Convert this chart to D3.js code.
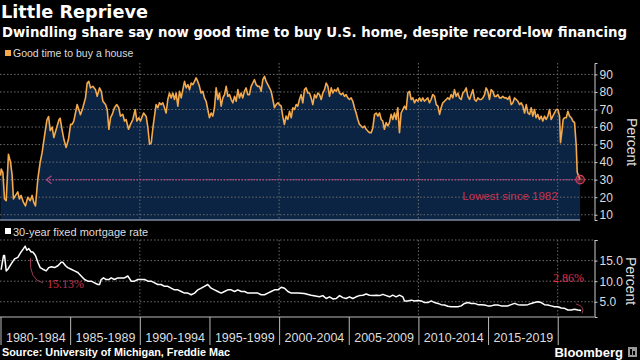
<!DOCTYPE html>
<html><head><meta charset="utf-8">
<script src="https://cdn.jsdelivr.net/npm/d3@7"></script>
<style>body{margin:0;background:#000;}svg{display:block;}</style>
</head><body>
<svg id="c" width="640" height="360"></svg>
<script>
// ---------- DATA ----------
const buyYears = [1980.00,1980.05,1980.17,1980.29,1980.41,1980.57,1980.72,1980.84,1980.93,1981.08,1981.24,1981.36,1981.48,1981.65,1981.79,1981.96,1982.13,1982.27,1982.39,1982.51,1982.68,1982.85,1982.99,1983.16,1983.33,1983.45,1983.57,1983.71,1983.83,1984.00,1984.19,1984.28,1984.43,1984.55,1984.71,1984.88,1985.03,1985.14,1985.26,1985.38,1985.50,1985.62,1985.74,1985.91,1986.10,1986.22,1986.34,1986.46,1986.63,1986.82,1986.94,1987.11,1987.23,1987.35,1987.54,1987.66,1987.78,1987.90,1988.02,1988.18,1988.35,1988.49,1988.61,1988.78,1988.90,1989.02,1989.19,1989.33,1989.50,1989.67,1989.79,1989.93,1990.05,1990.27,
1990.46,1990.58,1990.70,1990.82,1990.94,1991.05,1991.17,1991.29,1991.41,1991.53,1991.65,1991.77,1991.89,1992.01,1992.13,1992.25,1992.37,1992.49,1992.61,1992.73,1992.85,1992.97,1993.09,1993.21,1993.33,1993.45,1993.57,1993.69,1993.81,1993.93,1994.04,1994.16,1994.28,1994.40,1994.52,1994.64,1994.76,1994.88,1995.00,1995.12,1995.24,1995.36,1995.48,1995.60,1995.72,1995.84,1995.96,1996.08,1996.20,1996.32,1996.44,1996.56,1996.68,1996.80,1996.92,1997.04,1997.15,1997.27,1997.39,1997.51,1997.63,1997.75,1997.87,1997.99,1998.11,1998.23,1998.35,1998.47,1998.59,1998.71,1998.83,1998.95,1999.07,1999.19,1999.31,1999.43,1999.55,1999.67,1999.79,1999.91,2000.03,2000.15,2000.26,2000.38,2000.50,2000.62,
2000.75,2000.87,2000.99,2001.11,2001.23,2001.34,2001.46,2001.58,2001.70,2001.82,2001.94,2002.06,2002.18,2002.30,2002.42,2002.54,2002.66,2002.78,2002.90,2003.02,2003.14,2003.26,2003.38,2003.50,2003.62,2003.74,2003.86,2003.98,2004.10,2004.22,2004.33,2004.45,2004.57,2004.69,2004.81,2004.93,2005.05,2005.17,2005.29,2005.41,2005.53,2005.65,2005.77,2005.89,2006.01,2006.13,2006.25,2006.37,2006.49,2006.61,2006.73,2006.85,2006.97,2007.09,2007.21,2007.33,2007.44,2007.56,2007.68,2007.80,2007.92,2008.04,2008.16,2008.28,2008.40,2008.52,2008.64,2008.76,2008.88,2009.00,2009.12,2009.24,2009.36,2009.48,2009.60,2009.72,2009.84,2009.96,2010.08,2010.19,2010.31,2010.43,2010.55,2010.67,2010.79,2010.91,2011.03,
2011.16,2011.28,2011.40,2011.52,2011.63,2011.75,2011.87,2011.99,2012.11,2012.23,2012.35,2012.47,2012.59,2012.71,2012.83,2012.95,2013.07,2013.19,2013.31,2013.43,2013.55,2013.67,2013.79,2013.91,2014.03,2014.15,2014.27,2014.39,2014.51,2014.63,2014.75,2014.86,2014.98,2015.10,2015.22,2015.34,2015.46,2015.58,2015.70,2015.82,2015.94,2016.06,2016.18,2016.30,2016.42,2016.54,2016.66,2016.78,2016.90,2017.02,2017.14,2017.26,2017.38,2017.50,2017.62,2017.74,2017.86,2017.98,2018.10,2018.21,2018.33,2018.45,2018.57,2018.69,2018.81,2018.93,2019.05,2019.17,2019.29,2019.41,2019.53,2019.65,2019.77,2019.89,2020.01,2020.13,2020.20,2020.30,2020.39,2020.49,2020.61,2020.73,2020.85,2020.97,2021.09,2021.21,2021.33,2021.40,2021.49,2021.61];
const buyValues = [32.3,36,34,19,18,44.5,40,32,19,21,23,19,21,17,15,20,18,21,17,15,30.4,40,45.5,55,64,66,58,60,54,58.7,64,65,58,53,48.3,53,61.5,61.5,63.4,68,72.8,70,67,71,76.6,85,86,82.3,83.2,81.3,77.5,82.3,80.4,74.7,72.8,70,58.7,65.3,67.2,71,72.8,71,66.2,67.2,63.4,64.3,58.7,61.5,64.3,70,63.4,65.3,63.4,68,
66,59.6,50.2,51,59.6,66,72.8,71,73.8,72.8,73.8,71,68,75.7,79.4,76.6,79.4,75.7,79.4,71.9,80.4,76.6,81.3,86,82.3,84.2,81.3,85.1,84.2,86,88,86,83.2,79.4,80.4,76.6,74.7,70,65.3,68,66.2,71,82.3,75.7,79.4,71.9,76.6,78.5,83.2,77.5,78.5,75.7,73.8,77.5,74.7,81.3,76.6,79.4,76.6,80.4,82.3,78.5,78.5,83.2,85.1,87,84.2,83.2,83.2,80.4,87,88.9,86,84.2,82.3,80.4,75.7,71,72.8,73.8,72.8,71.9,66.2,61.5,66.2,64.3,
69,65.3,71,70,72.8,71.9,75.7,78.5,73.8,81.3,82.3,79.4,79.4,76.6,72.8,78.5,76.6,79.4,78.5,75.7,79.4,81.3,85.1,83.2,77.5,82.3,79.4,81.3,80.4,82.3,79.4,78.5,79.4,77.5,78.5,76.6,75.7,76.6,74.7,71,68,64.3,61.5,60.6,59.6,60.6,58.7,57.7,56.8,56.8,59.6,67.2,68,66.2,68,64.3,63.4,58.7,62.5,60.6,62.5,67.2,64.3,68,64.3,71,56.8,68,70,71.9,70,79.4,80.4,75.7,76.6,73.8,75.7,74.7,76.6,74.7,76.6,74.7,75.7,76.6,73.8,75.7,78.5,
77.5,72.8,71.9,67.2,71,73.8,74.7,75.7,76.6,75.7,78.5,76.6,81.3,77.5,79.4,76.6,75.7,79.4,80.4,82.3,77.5,75.7,78.5,81.3,75.7,74.7,76.6,75.7,75.7,76.6,78.5,82.3,80.4,75.7,81.3,80.4,77.5,77.5,78.5,76.6,76.6,77.5,76.6,76.6,75.7,77.5,72.8,73.8,76.6,75.7,74.7,72.8,73.8,71.9,68,72.8,68,67.2,71,66.2,70,65.3,67.2,64.3,66.2,63.4,66.2,64.3,66.2,70,64.3,66.2,68,70,70,66.2,51.1,57.7,64.3,65.3,65.3,69,66.2,65.3,63.4,62.5,49.2,34.2,32.3,30];

const rateYears = [1980.00,1980.05,1980.22,1980.29,1980.41,1980.53,1980.77,1981.01,1981.24,1981.48,1981.65,1981.77,1981.89,1982.03,1982.20,1982.32,1982.51,1982.68,1982.85,1983.04,1983.28,1983.47,1983.64,1983.88,1984.12,1984.36,1984.47,1984.67,1984.83,1985.07,1985.31,1985.55,1985.79,1986.03,1986.27,1986.51,1986.75,1986.99,1987.11,1987.23,1987.39,1987.59,1987.78,1987.94,1988.18,1988.42,1988.66,1988.90,1989.14,1989.38,1989.62,1989.86,1990.10,1990.34,1990.58,1990.82,1991.06,1991.29,1991.53,1991.77,1992.01,1992.25,1992.49,1992.73,1992.97,1993.21,1993.45,1993.69,1993.93,1994.17,1994.41,1994.64,1994.88,1995.12,1995.36,1995.60,1995.84,1996.08,1996.32,1996.56,1996.80,1997.04,1997.28,1997.52,1997.76,1998.00,1998.23,1998.47,1998.71,1998.95,1999.19,1999.43,1999.67,1999.91,2000.15,2000.39,2000.63,2000.87,2001.11,2001.35,2001.80,2002.30,
2002.90,2003.14,2003.38,2003.62,2003.86,2004.10,2004.34,2004.58,2004.81,2005.05,2005.29,2005.53,2005.77,2006.01,2006.25,2006.49,2006.73,2006.97,2007.21,2007.45,2007.69,2007.93,2008.16,2008.40,2008.64,2008.88,2009.00,2009.24,2009.48,2009.72,2009.96,2010.20,2010.44,2010.68,2010.92,2011.16,2011.40,2011.63,2011.87,2012.11,2012.35,2012.59,2012.83,2013.07,2013.31,2013.55,2013.79,2014.03,2014.27,2014.51,2014.75,2014.98,2015.22,2015.46,2015.70,2015.94,2016.18,2016.42,2016.66,2016.90,2017.14,2017.38,2017.62,2017.86,2018.10,2018.33,2018.57,2018.81,2019.05,2019.29,2019.53,2019.77,2020.01,2020.25,2020.49,2020.73,2020.97,2021.21,2021.45,2021.68];
const rateValues = [12.9,12.9,16.25,16.25,12.5,12.9,14.2,15.4,15.8,17.1,17.9,18.5,17.5,17.9,17.1,17.1,16.25,14.6,13.3,12.9,12.5,13.3,13.5,13.3,13.75,14.6,14.6,13.75,13.3,12.9,12.5,12.1,11.25,10.4,10,10,9.6,9.2,9.2,10.4,10.8,10.4,10.4,10.8,10.4,10.8,10.8,10.8,11.25,10,10,10.4,10.4,10.4,10,10,9.6,9.2,9.2,8.75,8.75,8.3,7.9,7.9,7.5,7.1,7.1,6.7,7.1,7.9,8.3,8.75,9.2,8.3,7.9,7.5,7.1,7.5,7.9,7.9,7.5,7.9,7.5,7.5,7.1,7.1,7.1,7.1,6.7,6.7,7.1,7.5,7.9,7.9,8.5,8.3,7.5,7.1,7.1,7.1,7.0,6.6,
6.2,6.5,5.8,6.2,5.7,5.8,6.5,6.0,5.8,6.2,5.8,6.2,6.5,6.6,6.9,6.6,6.5,6.6,6.5,6.8,6.5,6.2,6.6,6.2,6.6,6.2,5.2,5.2,5.4,5.2,5.3,5.2,4.8,4.8,5.2,4.8,4.6,4.3,4.2,3.9,3.8,3.8,3.8,4.0,4.6,4.8,4.6,4.6,4.3,4.3,4.2,4.0,4.0,4.2,4.2,4.0,4.0,4.0,4.3,4.6,4.3,4.2,4.2,4.3,4.6,4.8,5.0,4.8,4.3,4.2,4.0,3.8,3.8,3.5,3.4,3.0,3.0,3.2,3.0,2.86];

const periodLabels = ["1980-1984","1985-1989","1990-1994","1995-1999","2000-2004","2005-2009","2010-2014","2015-2019"];
const periodStarts = [1980,1985,1990,1995,2000,2005,2010,2015,2020];
const gridYears = [1990,2000,2010,2020];
const buyTicks = [10,20,30,40,50,60,70,80,90];
const rateTicks = [5,10,15,20];
const lowestLevel = 30;

(function(){
// ---------- SETUP ----------
const svg = d3.select("#c");
const buy = buyYears.map((t,i)=>({t, v: buyValues[i]}));
const rate = rateYears.map((t,i)=>({t, v: rateValues[i]}));

const x = d3.scaleLinear().domain([1980, 2022.64]).range([0.5, 594.5]);
const yT = d3.scaleLinear().domain([7, 96.5]).range([220, 63]);
const yB = d3.scaleLinear().domain([1.3, 20]).range([317, 240]);
const xR = 594.5;

const gridCol = "#6b6b6b";
const dash = "1.5,2";

// ---------- TITLES ----------
function fit(sel, w){ const l = sel.node().getComputedTextLength(); const fs = parseFloat(sel.attr("font-size")); sel.attr("font-size", (fs*w/l).toFixed(2)); }
const t1 = svg.append("text").attr("x",1).attr("y",18).attr("fill","#fff").attr("font-family","DejaVu Sans").attr("font-weight","bold").attr("font-size",16).text("Little Reprieve");
fit(t1,147);
const t2 = svg.append("text").attr("x",2).attr("y",37).attr("fill","#fff").attr("font-family","DejaVu Sans").attr("font-weight","bold").attr("font-size",13).text("Dwindling share say now good time to buy U.S. home, despite record-low financing");
fit(t2,625);

// ---------- TOP PANEL ----------
const gTop = svg.append("g");
gTop.append("path").datum(buy)
  .attr("d", d3.area().x(d=>x(d.t)).y0(yT(7)).y1(d=>yT(d.v)))
  .attr("fill","#0b2444");
gTop.selectAll(".hg").data(buyTicks).join("line")
  .attr("x1",0).attr("x2",xR).attr("y1",d=>yT(d)).attr("y2",d=>yT(d))
  .attr("stroke",gridCol).attr("stroke-dasharray",dash).attr("stroke-width",1);
gTop.selectAll(".vg").data(gridYears).join("line")
  .attr("x1",d=>x(d)).attr("x2",d=>x(d)).attr("y1",yT(96.5)).attr("y2",yT(7))
  .attr("stroke",gridCol).attr("stroke-dasharray",dash).attr("stroke-width",1);
gTop.append("line").attr("x1",0).attr("x2",x(buyYears[buyYears.length-1])).attr("y1",yT(7)).attr("y2",yT(7))
  .attr("stroke","#7d8aa0").attr("stroke-width",1.5);

const lastBuy = buy[buy.length-1];
gTop.append("line").attr("x1",x(1983.3)).attr("x2",x(lastBuy.t)).attr("y1",yT(lowestLevel)).attr("y2",yT(lowestLevel))
  .attr("stroke","#a8487e").attr("stroke-width",1.5).attr("stroke-dasharray","1.5,1.5");
gTop.append("path")
  .attr("d", `M${x(1983.3)+5},${yT(lowestLevel)-4} L${x(1983.3)},${yT(lowestLevel)} L${x(1983.3)+5},${yT(lowestLevel)+4}`)
  .attr("fill","none").attr("stroke","#a8487e").attr("stroke-width",1.3);

gTop.append("path").datum(buy)
  .attr("d", d3.line().x(d=>x(d.t)).y(d=>yT(d.v)))
  .attr("fill","none").attr("stroke","#f4aa4a").attr("stroke-width",1.6).attr("stroke-linejoin","round");

gTop.append("circle").attr("cx",x(lastBuy.t)).attr("cy",yT(lastBuy.v)).attr("r",4.2)
  .attr("fill","rgba(210,60,90,0.35)").attr("stroke","#d8405c").attr("stroke-width",1.2);
gTop.append("text").attr("x",510).attr("y",200).attr("text-anchor","middle")
  .attr("fill","#c8324c").attr("font-family","Liberation Sans").attr("font-size",11.5).text("Lowest since 1982");

const axT = gTop.append("g").attr("transform",`translate(${xR},0)`)
  .call(d3.axisRight(yT).tickValues(buyTicks).tickSize(3).tickPadding(2));
axT.select(".domain").attr("stroke","#ccc");
axT.selectAll(".tick line").attr("stroke","#ccc");
axT.selectAll("text").attr("fill","#ddd").attr("font-family","Liberation Sans").attr("font-size",12);
gTop.append("text").attr("transform","translate(627,142) rotate(90)").attr("text-anchor","middle")
  .attr("fill","#ddd").attr("font-family","Liberation Sans").attr("font-size",14).text("Percent");

svg.append("rect").attr("x",5).attr("y",50).attr("width",6).attr("height",6).attr("fill","#f4aa4a");
svg.append("text").attr("x",13).attr("y",57).attr("fill","#ddd").attr("font-family","Liberation Sans").attr("font-size",10.5).text("Good time to buy a house");

// ---------- BOTTOM PANEL ----------
const gBot = svg.append("g");
svg.append("rect").attr("x",5).attr("y",228).attr("width",6).attr("height",6).attr("fill","#fff");
svg.append("text").attr("x",13).attr("y",236).attr("fill","#ddd").attr("font-family","Liberation Sans").attr("font-size",11).text("30-year fixed mortgage rate");

gBot.selectAll(".hg").data(rateTicks).join("line")
  .attr("x1",0).attr("x2",xR).attr("y1",d=>yB(d)).attr("y2",d=>yB(d))
  .attr("stroke",gridCol).attr("stroke-dasharray",dash);
gBot.selectAll(".vg").data(gridYears).join("line")
  .attr("x1",d=>x(d)).attr("x2",d=>x(d)).attr("y1",yB(20)).attr("y2",yB(1.3))
  .attr("stroke",gridCol).attr("stroke-dasharray",dash);

gBot.append("path").datum(rate)
  .attr("d", d3.line().x(d=>x(d.t)).y(d=>yB(d.v)))
  .attr("fill","none").attr("stroke","#fff").attr("stroke-width",1.5).attr("stroke-linejoin","round");

const red = "#c8324c";
gBot.append("path").attr("d",`M${x(1982.15)},${yB(15.6)} Q${x(1982.05)},${yB(10.3)} ${x(1983.05)},${yB(9.6)}`)
  .attr("fill","none").attr("stroke","#9a3a52").attr("stroke-width",1);
gBot.append("text").attr("x",47).attr("y",288).attr("fill",red).attr("font-family","Liberation Serif").attr("font-size",12).text("15.13%");
gBot.append("path").attr("d",`M${x(2021.3)},${yB(4.5)} Q${x(2022.0)},${yB(3.8)} ${x(2021.75)},${yB(2.2)}`)
  .attr("fill","none").attr("stroke","#9a3a52").attr("stroke-width",1);
gBot.append("text").attr("x",584).attr("y",282).attr("text-anchor","end").attr("fill","#e0304c").attr("font-family","Liberation Serif").attr("font-size",12).text("2.86%");

const axB = gBot.append("g").attr("transform",`translate(${xR},0)`)
  .call(d3.axisRight(yB).tickValues(rateTicks).tickSize(3).tickPadding(2).tickFormat(d=> d===20 ? "" : d3.format(".1f")(d)));
axB.select(".domain").attr("stroke","#ccc");
axB.selectAll(".tick line").attr("stroke","#ccc");
axB.selectAll("text").attr("fill","#ddd").attr("font-family","Liberation Sans").attr("font-size",12);
gBot.append("text").attr("transform","translate(626,281) rotate(90)").attr("text-anchor","middle")
  .attr("fill","#ddd").attr("font-family","Liberation Sans").attr("font-size",14).text("Percent");

gBot.append("line").attr("x1",0).attr("x2",xR).attr("y1",317).attr("y2",317).attr("stroke","#bbb");
const axX = gBot.append("g").attr("transform","translate(0,317)")
  .call(d3.axisBottom(x).tickValues(periodStarts).tickSize(28).tickFormat(""));
axX.select(".domain").remove();
axX.selectAll(".tick line").attr("stroke","#bbb");
const axL = gBot.append("g").attr("transform","translate(0,317)")
  .call(d3.axisBottom(x).tickValues(periodStarts.slice(0,-1).map(d=>d+2.5)).tickSize(0).tickPadding(16)
    .tickFormat((d,i)=>periodLabels[i]));
axL.select(".domain").remove();
axL.selectAll("text").attr("fill","#ddd").attr("font-family","Liberation Sans").attr("font-size",12.5);

// ---------- FOOTER ----------
const src = svg.append("text").attr("x",2).attr("y",356).attr("fill","#fff").attr("font-family","Liberation Sans").attr("font-weight","bold").attr("font-size",10).text("Source: University of Michigan, Freddie Mac");
fit(src,228);
svg.append("text").attr("x",623).attr("y",357).attr("text-anchor","end").attr("fill","#fff").attr("font-family","Liberation Sans").attr("font-weight","bold").attr("font-size",13).text("Bloomberg");
const ic = svg.append("g").attr("transform","translate(628,347)");
ic.append("rect").attr("width",9).attr("height",10).attr("fill","#9a9a9a");
ic.append("rect").attr("x",2).attr("y",2).attr("width",2).attr("height",6).attr("fill","#000");
ic.append("rect").attr("x",5).attr("y",4).attr("width",2).attr("height",4).attr("fill","#000");
})();
</script>
</body></html>
